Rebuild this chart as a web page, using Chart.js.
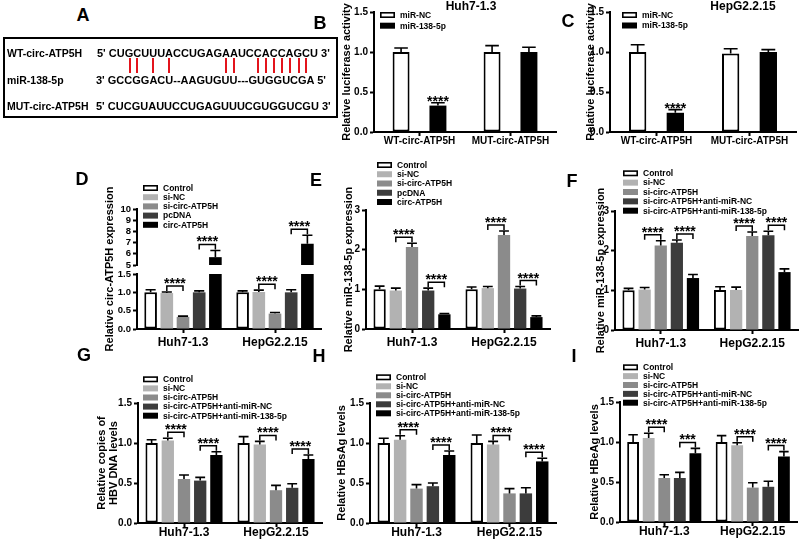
<!DOCTYPE html>
<html>
<head>
<meta charset="utf-8">
<title>circ-ATP5H / miR-138-5p figure</title>
<script src="https://cdn.jsdelivr.net/npm/chart.js@4.4.1/dist/chart.umd.min.js"></script>
<style>
  html, body { margin:0; padding:0; background:#fff; }
  #wrap { position:relative; width:800px; height:540px; overflow:hidden; background:#fff;
          font-family:"Liberation Sans", Arial, Helvetica, sans-serif; font-weight:bold; color:#000; }
  #wrap canvas { position:absolute; }
  .c { position:absolute; white-space:nowrap; line-height:1; transform:translate(-50%,-50%); z-index:5; }
  .let { font-size:18px; }
  .ttl { font-size:12px; }
  .seqbox { position:absolute; left:3px; top:37px; width:335px; height:81px; border:2px solid #000; box-sizing:border-box; }
  .row { position:absolute; white-space:nowrap; line-height:12px; height:12px; z-index:5; }
  .lab { font-size:10.5px; }
  .seq { font-size:11px; }
  .pair { position:absolute; top:58px; width:2px; height:15px; background:#e3141c; z-index:4; }
</style>
</head>
<body>
<div id="wrap">
  <div class="seqbox"></div>
</div>
<script>
// ===================== DATA =====================
// Panel A – sequences
const seqWT  = "CUGCUUUACCUGAGAAUCCACCAGCU";
const seqMiR = "GCCGGACU--AAGUGUU---GUGGUCGA";
const seqMUT = "CUCGUAUUCCUGAGUUUCGUGGUCGU";
const wtPairedIdx = [2, 3, 5, 7, 14, 15, 18, 19, 20, 21, 22, 23, 24];

// Panels B / C – luciferase
const luciferaseGroups = ['WT-circ-ATP5H', 'MUT-circ-ATP5H'];
const luciferaseSeries = ['miR-NC', 'miR-138-5p'];
const lucTicks = [0, 0.5, 1.0, 1.5];
const bMean = [[1.00, 0.33], [1.00, 1.00]];   // [group][series]
const bSD   = [[0.05, 0.035], [0.08, 0.06]];
const bSig  = [[0, [1], '****']];
const cMean = [[1.00, 0.24], [0.98, 1.00]];
const cSD   = [[0.09, 0.04], [0.06, 0.03]];
const cSig  = [[0, [1], '****']];

// Panels D–I
const cellLines = ['Huh7-1.3', 'HepG2.2.15'];
const ovSeries = ['Control', 'si-NC', 'si-circ-ATP5H', 'pcDNA', 'circ-ATP5H'];
const rescueSeries = ['Control', 'si-NC', 'si-circ-ATP5H', 'si-circ-ATP5H+anti-miR-NC', 'si-circ-ATP5H+anti-miR-138-5p'];

// D – broken axis
const dLowTicks  = [0, 0.5, 1.0, 1.5];
const dHighTicks = [5, 6, 7, 8, 9, 10];
const dMean = [[1.00, 0.98, 0.33, 1.00, 5.70], [1.00, 1.01, 0.42, 1.00, 6.90]];
const dSD   = [[0.07, 0.03, 0.02, 0.04, 0.60], [0.04, 0.05, 0.03, 0.07, 0.75]];
const dSig  = [[0, [1, 2], '****', 'low'], [0, [3, 4], '****', 'high'], [1, [1, 2], '****', 'low'], [1, [3, 4], '****', 'high']];

// E
const expTicks = [0, 1, 2, 3];
const eMean = [[1.00, 0.97, 2.07, 0.97, 0.37], [1.00, 1.03, 2.37, 1.02, 0.30]];
const eSD   = [[0.08, 0.06, 0.09, 0.06, 0.02], [0.06, 0.04, 0.10, 0.05, 0.03]];
// F
const fMean = [[1.00, 1.02, 2.13, 2.20, 1.31], [1.01, 1.01, 2.37, 2.39, 1.46]];
const fSD   = [[0.05, 0.05, 0.12, 0.07, 0.09], [0.08, 0.07, 0.10, 0.10, 0.08]];
// G
const levelTicks = [0, 0.5, 1.0, 1.5];
const gMean = [[1.00, 1.03, 0.55, 0.53, 0.85], [1.00, 0.98, 0.41, 0.44, 0.80]];
const gSD   = [[0.04, 0.03, 0.05, 0.04, 0.04], [0.08, 0.04, 0.06, 0.05, 0.05]];
// H
const hMean = [[1.00, 1.04, 0.43, 0.46, 0.85], [1.00, 0.98, 0.37, 0.37, 0.77]];
const hSD   = [[0.06, 0.05, 0.05, 0.04, 0.05], [0.10, 0.04, 0.06, 0.07, 0.04]];
// I
const iMean = [[1.00, 1.05, 0.55, 0.55, 0.86], [1.00, 0.96, 0.43, 0.44, 0.82]];
const iSD   = [[0.09, 0.06, 0.04, 0.07, 0.06], [0.08, 0.03, 0.06, 0.07, 0.06]];
// significance: [category, [series], label]
const sig4 = [[0, [1, 2], '****'], [0, [3, 4], '****'], [1, [1, 2], '****'], [1, [3, 4], '****']];
const iSig = [[0, [1, 2], '****'], [0, [3, 4], '***'], [1, [1, 2], '****'], [1, [3, 4], '****']];

// ===================== SETUP =====================
const FONT = "'Liberation Sans', Arial, Helvetica, sans-serif";
Chart.defaults.font.family = FONT;
Chart.defaults.font.weight = 'bold';
Chart.defaults.font.size = 10;
Chart.defaults.color = '#000';

const WRAP = document.getElementById('wrap');
const FILL5 = ['#ffffff', '#b2b2b2', '#8b8b8b', '#3c3c3c', '#000000'];
const FILL2 = ['#ffffff', '#000000'];
const TITLE_LH = 12;
const fmt1 = v => Number(v).toFixed(1);
const fmt0 = v => String(Math.round(v));

function addDiv(cls, text, x, y) {
  const d = document.createElement('div');
  d.className = cls; d.textContent = text;
  d.style.left = x + 'px'; d.style.top = y + 'px';
  WRAP.appendChild(d); return d;
}

// ----- Panel A (sequence alignment) -----
const rowsA = [
  ['WT-circ-ATP5H', "5' ", seqWT, " 3'", 53, 97],
  ['miR-138-5p', "3' ", seqMiR, " 5'", 80, 96],
  ['MUT-circ-ATP5H', "5' ", seqMUT, " 3'", 106, 96]
];
let wtRow = null;
rowsA.forEach((r, ri) => {
  addDiv('row lab', r[0], 7, r[4] - 6);
  const s = document.createElement('div');
  s.className = 'row seq'; s.style.left = r[5] + 'px'; s.style.top = (r[4] - 6) + 'px';
  const pre = document.createElement('span'); pre.textContent = r[1]; s.appendChild(pre);
  for (const ch of r[2]) { const sp = document.createElement('span'); sp.textContent = ch; s.appendChild(sp); }
  const post = document.createElement('span'); post.textContent = r[3]; s.appendChild(post);
  WRAP.appendChild(s);
  if (ri === 0) wtRow = s;
});
wtPairedIdx.forEach(i => {
  const sp = wtRow.children[i + 1];
  const x = wtRow.offsetLeft + sp.offsetLeft + sp.offsetWidth / 2;
  const ln = document.createElement('div'); ln.className = 'pair'; ln.style.left = (x - 1) + 'px';
  WRAP.appendChild(ln);
});

// ----- panel letters & titles -----
[['A', 83, 15], ['B', 320, 23], ['C', 568, 21], ['D', 82, 179], ['E', 316, 180], ['F', 572, 181],
 ['G', 84, 355], ['H', 319, 356], ['I', 574, 356]].forEach(t => addDiv('c let', t[0], t[1], t[2]));
addDiv('c ttl', 'Huh7-1.3', 471, 6);
addDiv('c ttl', 'HepG2.2.15', 743, 6);

// ----- plugins -----
function errPlugin() {
  return { id: 'errbars', afterDatasetsDraw(chart) {
    const ctx = chart.ctx;
    chart.data.datasets.forEach((ds, di) => {
      const meta = chart.getDatasetMeta(di);
      const ys = chart.scales[meta.yAxisID];
      meta.data.forEach((el, i) => {
        const v = ds.data[i];
        if (v < ys.min || v > ys.max) return;
        const top = ys.getPixelForValue(v + ds.err[i]);
        const half = el.width * 0.4;
        ctx.save();
        ctx.strokeStyle = '#000'; ctx.lineWidth = 1.6;
        ctx.beginPath();
        ctx.moveTo(el.x, el.y); ctx.lineTo(el.x, top);
        ctx.moveTo(el.x - half, top); ctx.lineTo(el.x + half, top);
        ctx.stroke(); ctx.restore();
      });
    });
  }};
}
function sigPlugin(items) {
  return { id: 'sig', afterDatasetsDraw(chart) {
    const ctx = chart.ctx;
    items.forEach(([cat, dsIdx, text, scaleId]) => {
      const ys = chart.scales[scaleId || 'y'];
      const pts = dsIdx.map(di => {
        const el = chart.getDatasetMeta(di).data[cat];
        const ds = chart.data.datasets[di];
        const v = ds.data[cat];
        const inRange = v >= ys.min && v <= ys.max;
        return { x: el.x, top: inRange ? ys.getPixelForValue(v + ds.err[cat]) : Infinity };
      });
      const top = Math.min(...pts.map(p => p.top));
      ctx.save();
      ctx.fillStyle = '#000'; ctx.strokeStyle = '#000'; ctx.lineWidth = 1.5;
      ctx.font = 'bold 14px ' + FONT;
      ctx.textAlign = 'center'; ctx.textBaseline = 'alphabetic';
      if (pts.length === 1) {
        ctx.fillText(text, pts[0].x, top + 3);
      } else {
        const y = top - 6, x1 = pts[0].x, x2 = pts[pts.length - 1].x;
        ctx.beginPath();
        ctx.moveTo(x1, y + 5); ctx.lineTo(x1, y); ctx.lineTo(x2, y); ctx.lineTo(x2, y + 5);
        ctx.stroke();
        ctx.fillText(text, (x1 + x2) / 2, y + 2);
      }
      ctx.restore();
    });
  }};
}
function legendPlugin(leg, cx, cy) {
  const [lx, ly, step, n, fs] = leg;
  return { id: 'leg', afterDraw(chart) {
    const ctx = chart.ctx;
    ctx.save();
    ctx.font = 'bold ' + fs + 'px ' + FONT;
    ctx.textBaseline = 'middle'; ctx.textAlign = 'left';
    for (let i = 0; i < n; i++) {
      const ds = chart.data.datasets[i];
      const x = lx - cx, yc = ly - cy + i * step;
      if (ds.borderWidth) {
        ctx.fillStyle = '#fff'; ctx.fillRect(x, yc - 3, 15, 6);
        ctx.strokeStyle = '#000'; ctx.lineWidth = 1.6;
        ctx.strokeRect(x + 0.8, yc - 2.2, 13.4, 4.4);
      } else {
        ctx.fillStyle = ds.backgroundColor; ctx.fillRect(x, yc - 3, 15, 6);
      }
      ctx.fillStyle = '#000';
      ctx.fillText(ds.label, x + 20, yc + 0.5);
    }
    ctx.restore();
  }};
}

// ----- builders -----
function makeDatasets(names, mean, sd, fills, extra) {
  return names.map((name, k) => Object.assign({
    label: name,
    data: mean.map(r => r[k]),
    err: sd.map(r => r[k]),
    backgroundColor: fills[k],
    borderColor: '#000',
    borderWidth: k === 0 ? 2 : 0,
    borderSkipped: false
  }, extra ? extra(k) : {}));
}
function valueAxis(ticks, fmt, extra, fontSize) {
  return Object.assign({
    type: 'linear', position: 'left',
    min: ticks[0], max: ticks[ticks.length - 1],
    afterBuildTicks: s => { s.ticks = ticks.map(v => ({ value: v })); },
    ticks: { callback: v => fmt(v), font: { size: fontSize || 10, weight: 'bold' }, padding: 2, color: '#000', autoSkip: false },
    grid: { drawOnChartArea: false, drawTicks: true, tickLength: 4, tickWidth: 2, tickColor: '#000', color: '#000' },
    border: { display: true, color: '#000', width: 2 }
  }, extra);
}
function axisTitle(text) {
  return { display: true, text, color: '#000', padding: 0, font: { size: 11, weight: 'bold', lineHeight: TITLE_LH / 11 } };
}
const simpleY = (ticks, fmt, title) => (scales, yw) => {
  scales.y = valueAxis(ticks, fmt, { title: axisTitle(title), afterFit: s => { s.width = yw; } });
};

function build(o) {
  const [cx, cy, cw, ch] = o.box;
  const [L, T, R, B] = o.area;
  const cv = document.createElement('canvas');
  cv.width = cw; cv.height = ch;
  cv.style.left = cx + 'px'; cv.style.top = cy + 'px';
  WRAP.appendChild(cv);
  const scaleLeft = o.titleX - TITLE_LH / 2;
  const yw = L - scaleLeft;
  const scales = {
    x: {
      type: 'category', offset: true,
      ticks: { font: { size: o.xFont, weight: 'bold', lineHeight: o.xLH }, padding: o.xPad, color: '#000', maxRotation: 0, minRotation: 0, autoSkip: false },
      grid: { offset: false, drawOnChartArea: false, drawTicks: true, tickLength: 4, tickWidth: 2, tickColor: '#000', color: '#000' },
      border: { display: true, color: '#000', width: 2 },
      afterFit: s => { s.height = cy + ch - B; }
    }
  };
  o.yScales(scales, yw);
  return new Chart(cv, {
    type: 'bar',
    data: { labels: o.labels, datasets: o.datasets },
    plugins: [errPlugin(), sigPlugin(o.sig), legendPlugin(o.leg, cx, cy)],
    options: {
      responsive: false, maintainAspectRatio: false, animation: false, devicePixelRatio: 1, events: [],
      layout: { padding: { left: scaleLeft - cx, top: T - cy, right: cx + cw - R, bottom: 0 } },
      datasets: { bar: { categoryPercentage: o.cat, barPercentage: o.bar } },
      scales,
      plugins: { legend: { display: false }, tooltip: { enabled: false }, title: { display: false } }
    }
  });
}

// ===================== CHARTS =====================
// B
build({ box: [325, 0, 235, 160], area: [374, 12, 556, 132], titleX: 347,
  labels: luciferaseGroups, xFont: 10, xPad: 0, xLH: 1, cat: 0.81, bar: 0.46,
  datasets: makeDatasets(luciferaseSeries, bMean, bSD, FILL2),
  yScales: simpleY(lucTicks, fmt1, 'Relative luciferase activity'),
  sig: bSig, leg: [380, 15, 10.7, 2, 8.5] });
// C
build({ box: [575, 0, 225, 160], area: [610, 12, 796, 132], titleX: 591,
  labels: luciferaseGroups, xFont: 10, xPad: 0, xLH: 1, cat: 0.81, bar: 0.46,
  datasets: makeDatasets(luciferaseSeries, cMean, cSD, FILL2),
  yScales: simpleY(lucTicks, fmt1, 'Relative luciferase activity'),
  sig: cSig, leg: [622, 15, 10.5, 2, 8.5] });

// D (broken y axis: two stacked value scales; each copy clipped to its own segment)
const segClip = { left: 20, right: 20, top: 0, bottom: 0 };
const dLower = makeDatasets(ovSeries, dMean, dSD, FILL5, k => ({ yAxisID: 'y', stack: 's' + k, clip: segClip }));
const dUpper = makeDatasets(ovSeries, dMean, dSD, FILL5, k => ({ yAxisID: 'y2', stack: 's' + k, clip: segClip }));
build({ box: [60, 160, 265, 195], area: [137, 209, 321, 329], titleX: 110,
  labels: cellLines, xFont: 12, xPad: 2, xLH: 1.2, cat: 0.88, bar: 0.78,
  datasets: dLower.concat(dUpper),
  yScales: (scales, yw) => {
    const w = yw - TITLE_LH;
    scales.yt = { type: 'linear', position: 'left', weight: 10, min: 0, max: 1,
      grid: { display: false, drawTicks: false }, border: { display: false }, ticks: { display: false },
      title: axisTitle('Relative circ-ATP5H expression'), afterFit: s => { s.width = TITLE_LH; } };
    scales.y2 = valueAxis(dHighTicks, fmt0, { stack: 'brk', stackWeight: 56, weight: 3, stacked: false, afterFit: s => { s.width = w; } }, 9.5);
    scales.yg = { type: 'linear', position: 'left', stack: 'brk', stackWeight: 9, weight: 2, display: false, afterFit: s => { s.width = w; } };
    scales.y = valueAxis(dLowTicks, fmt1, { stack: 'brk', stackWeight: 55, weight: 1, stacked: false, afterFit: s => { s.width = w; } }, 9.5);
  },
  sig: dSig.map(([c, s, t, seg]) => [c, s.map(k => seg === 'high' ? k + ovSeries.length : k), t, seg === 'high' ? 'y2' : 'y']),
  leg: [143, 188, 9.2, 5, 8.5] });

// E
build({ box: [320, 160, 240, 195], area: [366, 210, 550, 329], titleX: 349,
  labels: cellLines, xFont: 12, xPad: 2, xLH: 1.2, cat: 0.88, bar: 0.76,
  datasets: makeDatasets(ovSeries, eMean, eSD, FILL5),
  yScales: simpleY(expTicks, fmt0, 'Relative miR-138-5p expression'),
  sig: sig4, leg: [377, 165, 9.25, 5, 8.5] });
// F
build({ box: [575, 160, 225, 195], area: [615, 211, 798, 330], titleX: 601,
  labels: cellLines, xFont: 12, xPad: 2, xLH: 1.2, cat: 0.88, bar: 0.76,
  datasets: makeDatasets(rescueSeries, fMean, fSD, FILL5),
  yScales: simpleY(expTicks, fmt0, 'Relative miR-138-5p expression'),
  sig: sig4, leg: [623, 173.3, 9.35, 5, 8.5] });
// G
build({ box: [60, 355, 265, 185], area: [138, 403, 322, 523], titleX: 102,
  labels: cellLines, xFont: 12, xPad: 0, xLH: 1, cat: 0.88, bar: 0.76,
  datasets: makeDatasets(rescueSeries, gMean, gSD, FILL5),
  yScales: simpleY(levelTicks, fmt1, ['Relative copies of', 'HBV DNA levels']),
  sig: sig4, leg: [143, 379.3, 9.1, 5, 8.5] });
// H
build({ box: [320, 355, 240, 185], area: [370, 403, 556, 523], titleX: 342,
  labels: cellLines, xFont: 12, xPad: 0, xLH: 1, cat: 0.88, bar: 0.76,
  datasets: makeDatasets(rescueSeries, hMean, hSD, FILL5),
  yScales: simpleY(levelTicks, fmt1, 'Relative HBsAg levels'),
  sig: sig4, leg: [376, 377.3, 9.0, 5, 8.5] });
// I
build({ box: [565, 355, 235, 185], area: [620, 402, 797, 522], titleX: 595,
  labels: cellLines, xFont: 12, xPad: 0, xLH: 1, cat: 0.88, bar: 0.76,
  datasets: makeDatasets(rescueSeries, iMean, iSD, FILL5),
  yScales: simpleY(levelTicks, fmt1, 'Relative HBeAg levels'),
  sig: iSig, leg: [623, 367.3, 8.85, 5, 8.5] });
</script>
</body>
</html>
